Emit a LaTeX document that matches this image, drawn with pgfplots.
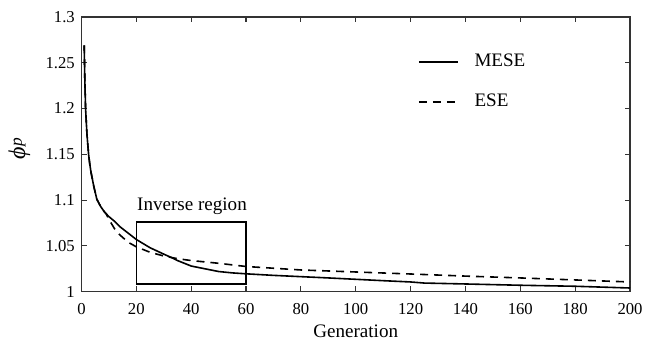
\documentclass[border=0pt]{standalone}
\usepackage{fontspec}
\setmainfont{Liberation Serif}
\usepackage{pgfplots}
\pgfplotsset{compat=1.18}
\begin{document}
\begin{tikzpicture}
\begin{axis}[
  name=ax,
  scale only axis,
  width=411.4pt, height=206pt,
  xmin=0, xmax=200, ymin=1, ymax=1.3,
  xtick={0,20,...,200},
  ytick={1,1.05,1.1,1.15,1.2,1.25,1.3},
  yticklabels={1,1.05,1.1,1.15,1.2,1.25,1.3},
  tick align=inside,
  major tick length=4pt,
  axis line style={black!80, line width=1pt},
  every tick/.style={black!80, line width=0.9pt},
  /pgf/number format/assume math mode=true,
  tick label style={font=\fontsize{12.5}{14}\selectfont},
  xticklabel style={anchor=base, yshift=-17pt},
  yticklabel style={xshift=-1.5pt},
  xlabel={Generation},
  xlabel style={font=\fontsize{14.3}{16}\selectfont, at={(axis description cs:0.5,0)}, anchor=base, yshift=-34.7pt},
  ylabel={{\fontsize{18}{20}\selectfont\itshape ϕ}\raisebox{0.55ex}{\fontsize{13}{15}\selectfont\itshape p}},
  ylabel style={at={(axis description cs:-0.113,0.52)}, anchor=center},
  legend style={at={(axis description cs:0.613,0.865)}, anchor=north west, draw=none, fill=none,
    font=\fontsize{14.3}{16}\selectfont, row sep=19pt, inner sep=0pt,
    nodes={inner sep=0pt}},
  legend cell align=left,
  legend image code/.code={\draw[#1, line width=1.4pt] (0pt,0pt) -- (29pt,0pt);},
  /tikz/every odd column/.append style={column sep=12pt},
]
\addplot[black, line width=1.2pt] coordinates {
(1,1.269) (1.2,1.235) (1.5,1.2) (2,1.172) (2.6,1.15) (3,1.14) (3.5,1.13)
(4.5,1.115) (5.6,1.101) (7,1.093) (8.4,1.087) (10,1.082) (12,1.077)
(14,1.071) (17,1.064) (20,1.057) (25,1.048) (30,1.041) (33,1.037)
(35,1.034) (40,1.028) (45,1.025) (50,1.022) (55,1.0205) (60,1.0195)
(70,1.0178) (80,1.0164) (90,1.015) (100,1.0135) (110,1.012) (120,1.0106)
(125,1.0094) (140,1.0084) (160,1.007) (180,1.0059) (200,1.004)
};
\addlegendentry{MESE}
\addplot[black, line width=1.2pt, dash pattern=on 6pt off 4.5pt] coordinates {
(1,1.269) (1.2,1.235) (1.5,1.2) (2,1.172) (2.6,1.15) (3,1.14) (3.5,1.13)
(4.5,1.115) (5.6,1.101) (7,1.093) (8.4,1.087) (9,1.085) (10,1.079)
(11,1.074) (12,1.069) (14,1.062) (17,1.054) (20,1.049) (25,1.043)
(30,1.039) (35,1.036) (40,1.034) (50,1.031) (60,1.0275) (80,1.0237)
(100,1.0215) (120,1.0193) (140,1.017) (160,1.015) (180,1.0128) (200,1.0106)
};
\addlegendentry{ESE}
\draw[black, line width=1.2pt] (axis cs:20,1.0087) rectangle (axis cs:60,1.0763);
\node[font=\fontsize{14.3}{16}\selectfont, anchor=center] at (axis cs:40.3,1.0935) {Inverse region};
\end{axis}
\pgfresetboundingbox
\path[use as bounding box] ([xshift=-61.1pt,yshift=-40.7pt]ax.south west) rectangle ([xshift=19.5pt,yshift=12.75pt]ax.north east);
\end{tikzpicture}
\end{document}
